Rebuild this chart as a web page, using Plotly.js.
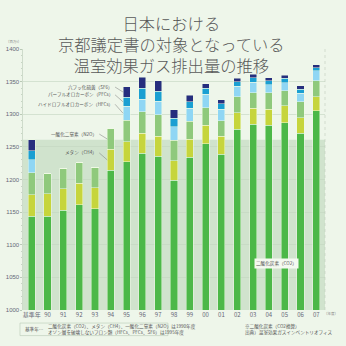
<!DOCTYPE html>
<html>
<head>
<meta charset="utf-8">
<script src="https://cdn.plot.ly/plotly-3.0.1.min.js"></script>
<style>
html,body{margin:0;padding:0;background:#eef6ea;}
#chart{width:346px;height:346px;}
</style>
</head>
<body>
<div id="chart"></div>
<script>
const years = ['基準年','90','91','92','93','94','95','96','97','98','99','00','01','02','03','04','05','06','07'];
const co2 = [1144,1144,1153,1161,1155,1214,1227,1240,1236,1199,1234,1255,1239,1277,1285,1283,1287,1271,1305];
const ch4 = [33,34,33,33,32,32,31,31,30,30,28,28,27,25,24,25,26,24,22];
const n2o = [33,31,31,32,31,32,33,33,33,31,27,27,24,25,24,25,23,24,24];
const hfcs = [20,0,0,0,0,0,21,19,21,21,20,21,18,16,16,12,12,13,16];
const pfcs = [14,0,0,0,0,0,14,17,15,13,10,9,8,7,7,6,7,6,4];
const sf6 = [17,0,0,0,0,0,16,17,16,13,10,7,6,5,5,5,5,6,5];
const baseYearTotal = 1261;
const yTicks = [1000,1050,1100,1150,1200,1250,1300,1350,1400];
const titleLines = ['日本における','京都議定書の対象となっている','温室効果ガス排出量の推移'];

const xs = years.map((_, i) => i);
const sepLine = {color:'rgba(240,250,230,0.8)', width:0.6};
function series(name, vals, color){
  return {type:'bar', name:name, x:xs, y:vals,
    marker:{color:color, line:sepLine}, hoverinfo:'skip', width:0.45};
}
const data = [
  series('CO2', co2, '#4cb848'),
  series('CH4', ch4, '#c6d53c'),
  series('N2O', n2o, '#8fc97c'),
  series('HFCs', hfcs, '#8fd6f4'),
  series('PFCs', pfcs, '#1a9fd2'),
  series('SF6', sf6, '#262e7e')
];

const small = {family:'Noto Sans CJK JP', size:4.6, color:'#555'};
const leader = {showarrow:true, arrowhead:0, arrowwidth:0.5, arrowcolor:'#777', xref:'x', yref:'y', xanchor:'right', yanchor:'middle', font:small, standoff:0, startstandoff:0};
function cum(k, i){ const arr=[co2,ch4,n2o,hfcs,pfcs,sf6]; let s=0; for(let j=0;j<k;j++) s+=arr[j][i]; return s + arr[k][i]/2; }

const titleFont = {family:'Noto Sans CJK JP', size:16.3, color:'#595959', weight:300};

const annotations = [
  {text:titleLines.join('<br>'), x:0.493, y:1.021, xref:'paper', yref:'paper', xanchor:'center', yanchor:'middle', showarrow:false, font:titleFont},
  Object.assign({}, leader, {text:'六フッ化硫黄（SF6）', x:5.78, y:cum(5,6), ax:-8, ay:-5}),
  Object.assign({}, leader, {text:'パーフルオロカーボン（PFCs）', x:5.78, y:cum(4,6), ax:-8, ay:-7}),
  Object.assign({}, leader, {text:'ハイドロフルオロカーボン（HFCs）', x:5.78, y:cum(3,6), ax:-8, ay:-9}),
  Object.assign({}, leader, {text:'一酸化二窒素（N2O）', x:4.78, y:cum(2,5), ax:-8, ay:-5}),
  Object.assign({}, leader, {text:'メタン（CH4）', x:4.78, y:cum(1,5), ax:-8, ay:-7}),
  {text:'二酸化炭素（CO2）', x:15.5, y:1072, xref:'x', yref:'y', showarrow:false, font:small, bgcolor:'#f4f9f0', borderpad:1},
  {text:'（百万t）', x:0, y:1.045, xref:'paper', yref:'paper', xanchor:'right', showarrow:false, font:{family:'Noto Sans CJK JP', size:3.5, color:'#888'}},
  {text:'（年度）', x:1.02, y:-0.03, xref:'paper', yref:'paper', xanchor:'center', showarrow:false, font:{family:'Noto Sans CJK JP', size:3.5, color:'#888'}},
  {text:'基準年…', x:0.0, y:-0.073, xref:'paper', yref:'paper', xanchor:'left', yanchor:'middle', showarrow:false, font:small},
  {text:'二酸化炭素（CO2）、メタン（CH4）、一酸化二窒素（N2O）は1990年度<br>オゾン層を破壊しないフロン類（HFCs、PFCs、SF6）は1995年度', x:0.075, y:-0.073, xref:'paper', yref:'paper', xanchor:'left', yanchor:'middle', align:'left', showarrow:false, font:small},
  {text:'※二酸化炭素（CO2換算）<br>出典）温室効果ガスインベントリオフィス', x:0.73, y:-0.073, xref:'paper', yref:'paper', xanchor:'left', yanchor:'middle', align:'left', showarrow:false, font:small}
];

const layout = {
  width:346, height:346,
  margin:{l:23, r:21, t:49, b:36},
  paper_bgcolor:'#eef6ea', plot_bgcolor:'rgba(0,0,0,0)',
  barmode:'stack', bargap:0.55, showlegend:false,
  xaxis:{tickmode:'array', tickvals:xs, ticktext:years, range:[-0.55,18.55], showgrid:false, zeroline:false,
    tickfont:{family:'Noto Sans CJK JP', size:6, color:'#667'}, ticks:'', showline:false, fixedrange:true},
  yaxis:{range:[1000,1400], tickvals:yTicks, ticktext:yTicks.map(String), gridcolor:'#c3d5bf', gridwidth:0.6, zeroline:false,
    tickfont:{family:'Liberation Sans', size:6, color:'#667'}, showline:true, linecolor:'#b9c9b5', linewidth:0.6,
    ticks:'outside', ticklen:2, tickcolor:'#b9c9b5', minor:{dtick:10, ticks:'outside', ticklen:1.5, tickcolor:'#c7d5c3'}, fixedrange:true},
  shapes:[
    {type:'rect', xref:'paper', yref:'y', x0:0, x1:1, y0:1000, y1:baseYearTotal, fillcolor:'#d0e3cd', line:{width:0}, layer:'below'},
    {type:'line', xref:'paper', yref:'paper', x0:1, x1:1, y0:0, y1:1, line:{color:'#c0ccbc', width:0.6, dash:'dot'}},
    {type:'rect', xref:'paper', yref:'paper', x0:-0.01, x1:0.48, y0:-0.05, y1:-0.098, fillcolor:'rgba(0,0,0,0)', line:{color:'#b9c9b5', width:0.6}}
  ],
  annotations:annotations
};
Plotly.newPlot('chart', data, layout, {staticPlot:true, displayModeBar:false});
</script>
</body>
</html>
